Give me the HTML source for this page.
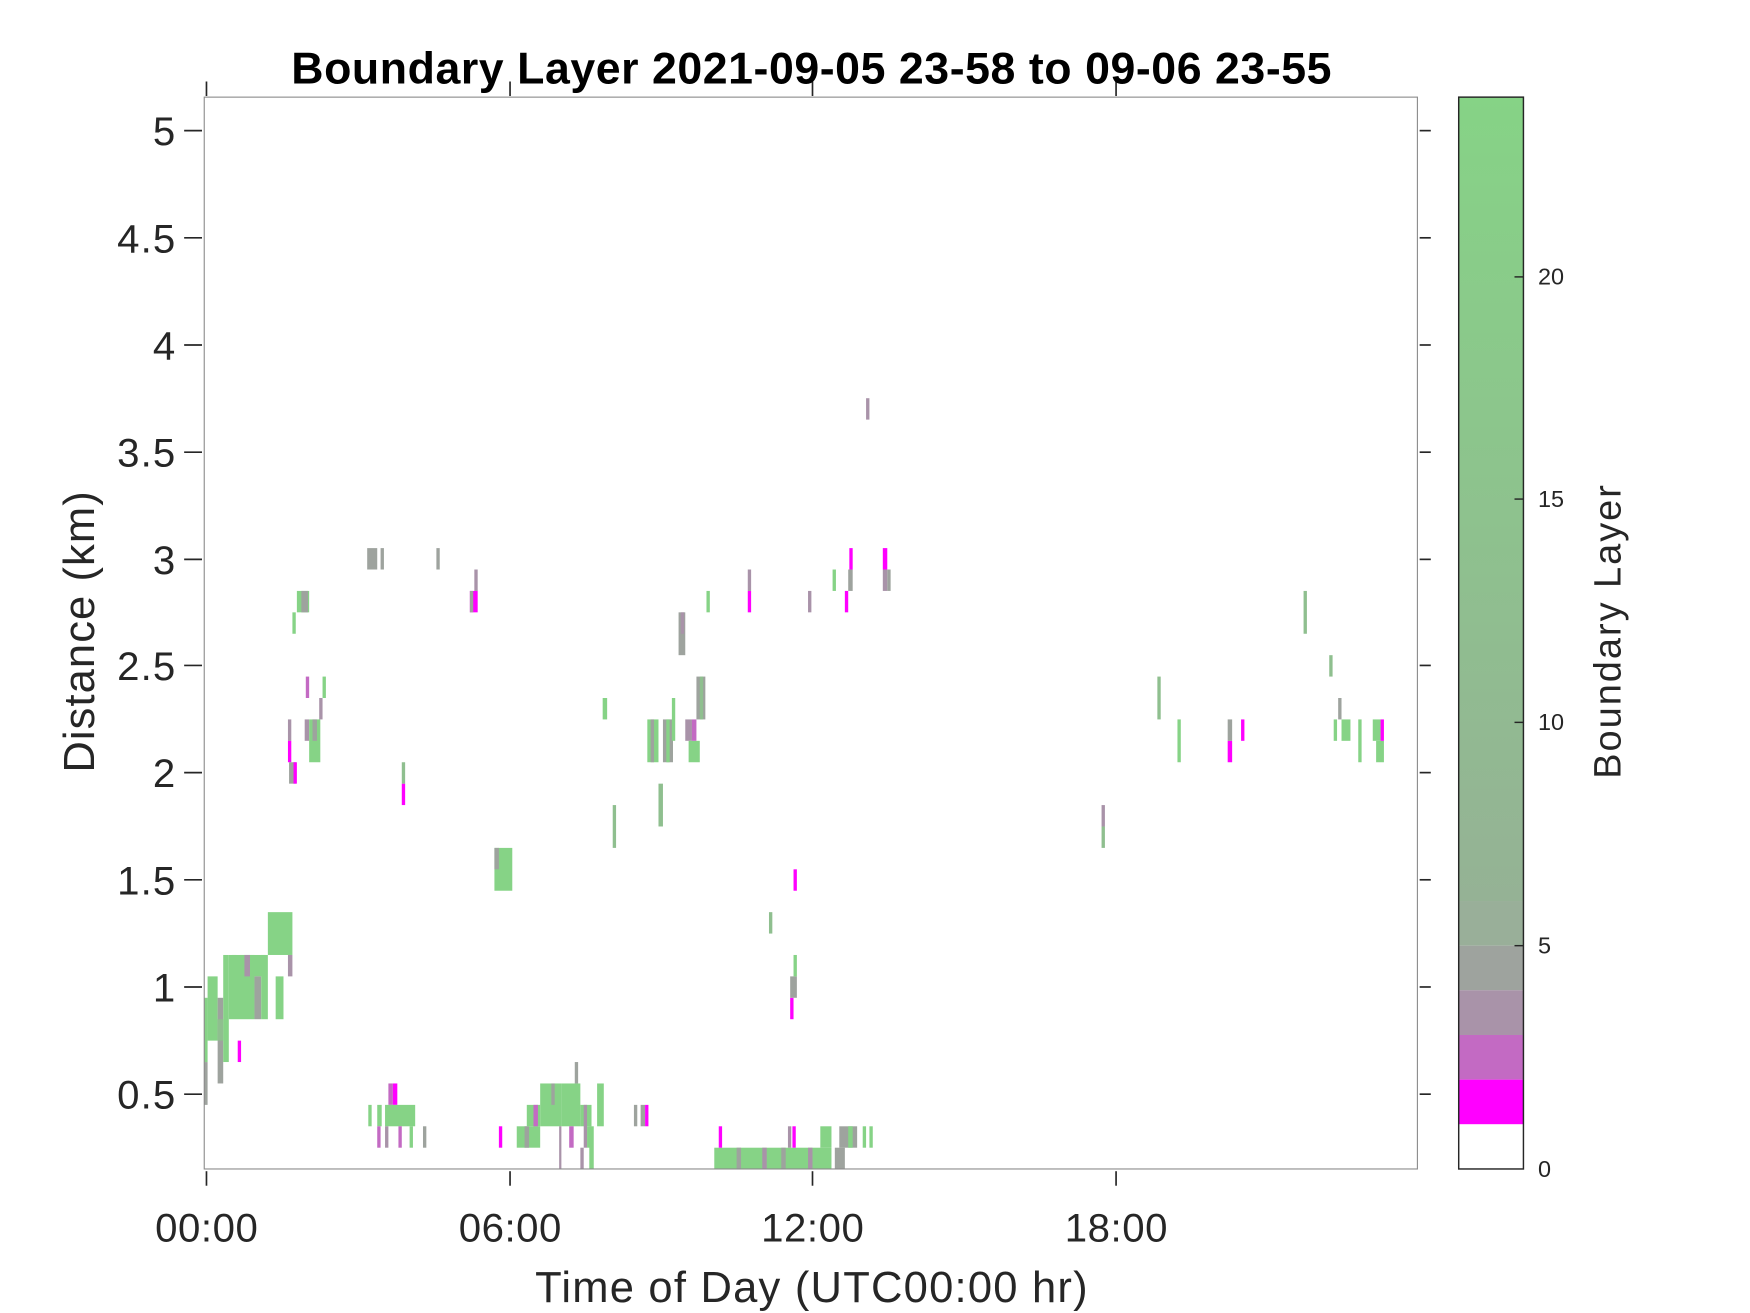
<!DOCTYPE html>
<html><head><meta charset="utf-8"><style>
html,body{margin:0;padding:0;background:#fff;}
svg{display:block;}
text{font-family:"Liberation Sans",sans-serif;fill:#262626;}
</style></head><body>
<svg id="s" width="1750" height="1313" viewBox="0 0 1568 1176" preserveAspectRatio="none" xmlns="http://www.w3.org/2000/svg">
<rect x="0" y="0" width="1568" height="1176" fill="#fff"/>
<g id="data"></g>
<rect x="183" y="87" width="1087" height="960" fill="none" stroke="#8c8c8c" stroke-width="1"/>
<g stroke="#262626" stroke-width="1.5">
<line x1="165" y1="117" x2="181" y2="117"/><line x1="165" y1="213" x2="181" y2="213"/>
<line x1="165" y1="309" x2="181" y2="309"/><line x1="165" y1="405" x2="181" y2="405"/>
<line x1="165" y1="501" x2="181" y2="501"/><line x1="165" y1="596" x2="181" y2="596"/>
<line x1="165" y1="692" x2="181" y2="692"/><line x1="165" y1="788" x2="181" y2="788"/>
<line x1="165" y1="884" x2="181" y2="884"/><line x1="165" y1="980" x2="181" y2="980"/>
<line x1="1272" y1="117" x2="1282" y2="117"/><line x1="1272" y1="213" x2="1282" y2="213"/>
<line x1="1272" y1="309" x2="1282" y2="309"/><line x1="1272" y1="405" x2="1282" y2="405"/>
<line x1="1272" y1="501" x2="1282" y2="501"/><line x1="1272" y1="596" x2="1282" y2="596"/>
<line x1="1272" y1="692" x2="1282" y2="692"/><line x1="1272" y1="788" x2="1282" y2="788"/>
<line x1="1272" y1="884" x2="1282" y2="884"/><line x1="1272" y1="980" x2="1282" y2="980"/>
<line x1="185" y1="1049" x2="185" y2="1062"/><line x1="457" y1="1049" x2="457" y2="1062"/>
<line x1="728" y1="1049" x2="728" y2="1062"/><line x1="1000" y1="1049" x2="1000" y2="1062"/>
<line x1="185" y1="73" x2="185" y2="86"/><line x1="457" y1="73" x2="457" y2="86"/>
<line x1="728" y1="73" x2="728" y2="86"/><line x1="1000" y1="73" x2="1000" y2="86"/>
</g>
<g font-size="36" text-anchor="end">
<text x="157" y="130" textLength="20">5</text><text x="157" y="226" textLength="52">4.5</text><text x="157" y="322" textLength="20">4</text>
<text x="157" y="418" textLength="52">3.5</text><text x="157" y="514" textLength="20">3</text><text x="157" y="609" textLength="52">2.5</text>
<text x="157" y="705" textLength="20">2</text><text x="157" y="801" textLength="52">1.5</text><text x="157" y="897" textLength="14">1</text>
<text x="157" y="993" textLength="52">0.5</text>
</g>
<g font-size="36" text-anchor="middle">
<text x="185" y="1112" textLength="92">00:00</text><text x="457" y="1112" textLength="92">06:00</text>
<text x="728" y="1112" textLength="92">12:00</text><text x="1000" y="1112" textLength="92">18:00</text>
<text x="727" y="1166" font-size="39" textLength="495">Time of Day (UTC00:00 hr)</text>
<text x="0" y="0" font-size="39" textLength="252" transform="translate(84,566) rotate(-90)">Distance (km)</text>
<text x="0" y="0" font-size="34" textLength="263" transform="translate(1452,566) rotate(-90)">Boundary Layer</text>
</g>
<text x="727" y="75" font-size="40" font-weight="bold" text-anchor="middle" textLength="932" style="fill:#000">Boundary Layer 2021-09-05 23-58 to 09-06 23-55</text>
<defs><linearGradient id="cg" x1="0" y1="1" x2="0" y2="0">
<stop offset="0" stop-color="#95b295"/><stop offset="1" stop-color="#86d386"/></linearGradient></defs>
<rect x="1307" y="87" width="58" height="720" fill="url(#cg)"/>
<rect x="1307" y="807" width="58" height="40" fill="#99af99"/>
<rect x="1307" y="847" width="58" height="40" fill="#9ea39e"/>
<rect x="1307" y="887" width="58" height="40" fill="#a993a9"/>
<rect x="1307" y="927" width="58" height="40" fill="#c36ac3"/>
<rect x="1307" y="967" width="58" height="40" fill="#ff00ff"/>
<rect x="1307" y="1007" width="58" height="40" fill="#fff"/>
<rect x="1307" y="87" width="58" height="960" fill="none" stroke="#262626" stroke-width="1.3"/>
<g stroke="#262626" stroke-width="1.3">
<line x1="1357" y1="248" x2="1365" y2="248"/><line x1="1357" y1="447" x2="1365" y2="447"/>
<line x1="1357" y1="647" x2="1365" y2="647"/><line x1="1357" y1="847" x2="1365" y2="847"/>
</g>
<g font-size="21">
<text x="1378" y="255">20</text><text x="1378" y="454">15</text><text x="1378" y="654">10</text>
<text x="1378" y="854">5</text><text x="1378" y="1054">0</text>
</g>
</svg>
<script>
var C={G:"#86d386",g:"#8fbf8f",r:"#9ea39e",p:"#a993a9",o:"#c36ac3",M:"#ff00ff"};
var D=[
[183,186,3,4,"r"],[183,186,5,7,"G"],[186,195,6,8,"G"],[195,200,4,7,"r"],[195,200,6,6,"g"],[200,205,5,9,"G"],[205,228,7,9,"G"],[213,216,5,5,"M"],
[208,212,9,9,"G"],[215,238,9,9,"G"],[228,234,7,8,"r"],[234,240,7,9,"G"],[240,262,10,11,"G"],[247,254,7,8,"G"],[258,262,9,9,"p"],[219,224,9,9,"p"],
[348,352,3,3,"o"],[352,356,3,3,"M"],[330,333,2,2,"G"],[338,342,2,2,"G"],[345,372,2,2,"G"],[338,341,1,1,"o"],[345,348,1,1,"p"],[357,360,1,1,"o"],[367,370,1,1,"G"],[379,382,1,1,"r"],
[447,450,1,1,"M"],[463,484,1,1,"G"],[470,474,1,1,"r"],
[472,484,2,2,"G"],[478,482,2,2,"o"],[484,503,2,3,"G"],[494,497,3,3,"r"],[503,520,2,3,"G"],[515,518,4,4,"r"],[520,530,2,2,"G"],[526,530,1,1,"G"],[535,541,2,3,"G"],
[523,526,1,2,"p"],[501,503,0,1,"p"],[520,523,0,0,"p"],[528,532,0,1,"G"],[510,514,1,1,"o"],[568,571,2,2,"r"],[574,578,2,2,"r"],[578,581,2,2,"M"],
[640,745,0,0,"G"],[660,664,0,0,"r"],[683,687,0,0,"p"],[700,704,0,0,"r"],[724,728,0,0,"p"],[748,757,0,0,"r"],
[644,647,1,1,"M"],[706,709,1,1,"p"],[710,713,1,1,"M"],[735,745,1,1,"G"],[752,768,1,1,"r"],[760,764,1,1,"G"],[773,776,1,1,"G"],[779,782,1,1,"G"],
[443,459,13,14,"G"],[443,447,14,14,"r"],
[360,363,17,17,"M"],[360,363,18,18,"g"],
[258,261,20,20,"p"],[258,261,19,19,"M"],[259,265,18,18,"r"],[263,266,18,18,"M"],[273,277,20,20,"p"],[277,287,19,20,"G"],[280,284,20,20,"r"],[286,289,21,21,"p"],[274,277,22,22,"o"],[289,292,22,22,"G"],
[266,277,26,26,"G"],[270,276,26,26,"r"],[262,265,25,25,"G"],
[329,338,28,28,"r"],[341,344,28,28,"r"],[391,394,28,28,"r"],[425,428,27,27,"p"],[421,428,26,26,"M"],[421,424,26,26,"r"],
[776,779,35,35,"p"],
[540,544,21,21,"G"],[549,552,15,16,"g"],[590,594,16,17,"g"],
[580,590,19,20,"G"],[583,586,19,20,"r"],[594,603,19,20,"r"],[597,600,19,20,"G"],[602,605,20,21,"G"],[608,614,24,25,"r"],[610,613,25,25,"p"],[614,620,20,20,"p"],[617,627,19,19,"G"],[620,624,20,20,"o"],[624,632,21,22,"r"],[627,630,21,22,"g"],
[633,636,26,26,"G"],[670,673,26,26,"M"],[670,673,27,27,"p"],[724,727,26,26,"p"],[746,749,27,27,"G"],[757,760,26,26,"M"],[760,764,27,27,"r"],[761,764,28,28,"M"],[791,795,28,28,"M"],[791,795,27,27,"p"],[795,798,27,27,"r"],
[689,692,11,11,"g"],[711,714,13,13,"M"],[708,711,7,7,"M"],[708,714,8,8,"r"],[711,714,9,9,"G"],
[987,990,15,15,"g"],[987,990,16,16,"p"],[1037,1040,21,22,"g"],[1055,1058,19,20,"G"],[1100,1104,19,19,"M"],[1100,1104,20,20,"r"],[1112,1115,20,20,"M"],
[1168,1171,25,26,"g"],[1191,1194,23,23,"g"],[1195,1198,20,20,"G"],[1199,1202,21,21,"r"],[1202,1210,20,20,"G"],[1217,1220,19,20,"G"],[1230,1237,20,20,"G"],[1233,1240,19,19,"G"],[1237,1240,20,20,"M"]
];
var g=document.getElementById("data"),ns="http://www.w3.org/2000/svg";
function y(km){return 980-(km-0.5)*191.8;}
D.forEach(function(d){var r=document.createElementNS(ns,"rect");
var yt=y(0.25+0.1*d[3]),yb=y(0.15+0.1*d[2]);
r.setAttribute("x",d[0]);r.setAttribute("width",d[1]-d[0]);
r.setAttribute("y",yt);r.setAttribute("height",yb-yt);r.setAttribute("fill",C[d[4]]);g.appendChild(r);});
</script>
</body></html>
